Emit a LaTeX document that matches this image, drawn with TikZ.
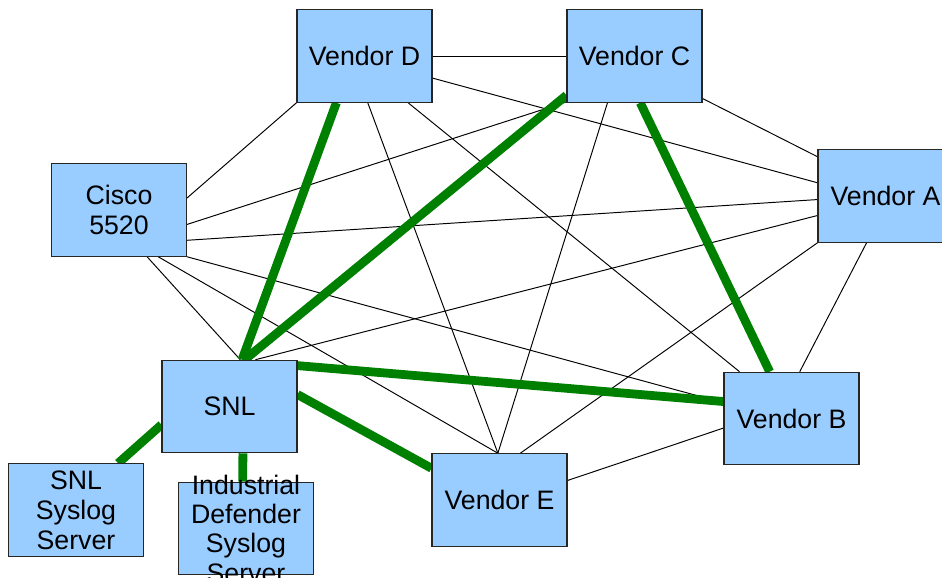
\documentclass[tikz,border=0pt]{standalone}
\usepackage{fontspec}
\setmainfont{Liberation Sans}
\usetikzlibrary{backgrounds}
\definecolor{boxblue}{HTML}{99CCFF}
\definecolor{linkgreen}{HTML}{008000}
\tikzset{
  devbox/.style={draw=black!85, fill=boxblue, line width=0.6pt,
    minimum width=2.7cm, minimum height=1.85cm, inner sep=0pt,
    align=center, font=\fontsize{15.2}{17}\selectfont},
  link/.style={black, line width=0.55pt},
  mainlink/.style={linkgreen, line width=5pt}
}
\begin{document}
\begin{tikzpicture}

            \useasboundingbox (0,0) rectangle (18.84,-11.56);
            \clip (0,0) rectangle (18.84,-11.56);

            % the boxes
            \node[devbox] (vd) at (7.29,-1.12) {Vendor D};
            \node[devbox] (vc) at (12.69,-1.12) {Vendor C};
            \node[devbox] (cisco) at (2.38,-4.20) {Cisco\\5520};
            \node[devbox] (va) at (17.71,-3.92) {Vendor A};
            \node[devbox] (snl) at (4.59,-8.13) {SNL};
            \node[devbox] (vb) at (15.83,-8.37) {Vendor B};
            \node[devbox] (ve) at (9.99,-10.00) {Vendor E};
            \node[devbox] (sys) at (1.52,-10.20) {SNL\\Syslog\\Server};
            \node[devbox] (ids) at (4.92,-10.57) {};
            \node[align=center, font=\fontsize{15.2}{16.7}\selectfont] (idstext) at (ids.center)
            {Industrial\\Defender\\Syslog\\Server};

            \begin{scope}[on background layer]
            % thin mesh
            \draw[link] (vd.east) -- (vc.west);
            \draw[link] (vd.-18) -- (va.169);
            \draw[link] (vd.south west) -- (cisco.10);
            \draw[link] (vd.-86) -- (ve.92);
            \draw[link] (vd.-47) -- (vb.138);
            \draw[link] (vc.-146) -- (cisco.-12);
            \draw[link] (vc.-120) -- (ve.92);
            \draw[link] (vc.-32) -- (va.150);
            \draw[link] (cisco.-24) -- (va.183);
            \draw[link] (cisco.-59) -- (snl.77);
            \draw[link] (cisco.-50) -- (ve.92);
            \draw[link] (cisco.south east) -- (vb.167);
            \draw[link] (snl.61) -- (va.196);
            \draw[link] (va.south west) -- (ve.66);
            \draw[link] (va.-112) -- (vb.80);
            \draw[link] (ve.16) -- (vb.188);

            % thick green links
            \draw[mainlink] (vd.-121) -- (snl.75);
            \draw[mainlink] (vc.-150) -- (snl.72);
            \draw[mainlink] (vc.-83) -- (vb.115);
            \draw[mainlink] (snl.31) -- (vb.166);
            \draw[mainlink] (snl.10) -- (ve.155);
            \draw[mainlink] (snl.-165) -- (sys.48);
            \draw[mainlink] (snl.-74) -- (ids.94);
            \end{scope}
        \end{tikzpicture}
\end{document}
